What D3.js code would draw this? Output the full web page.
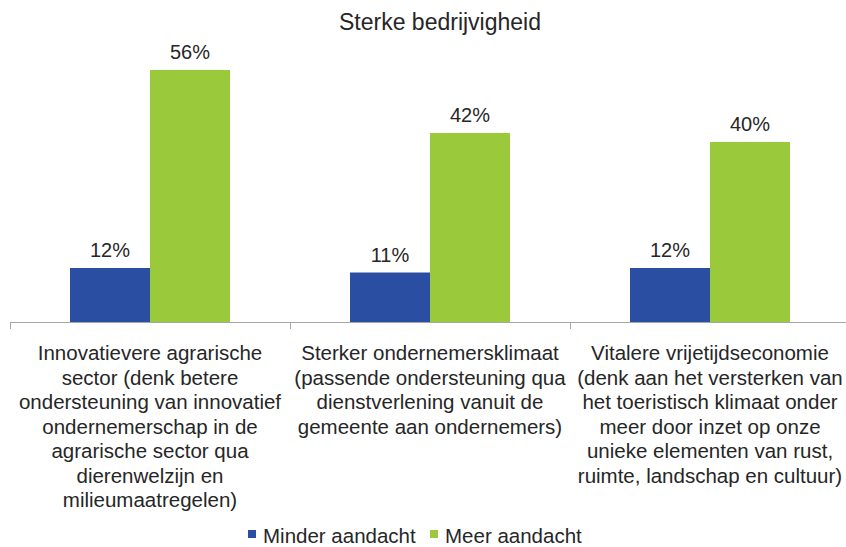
<!DOCTYPE html>
<html>
<head>
<meta charset="utf-8">
<script src="https://cdn.jsdelivr.net/npm/d3@7"></script>
<style>
  body { margin: 0; background: #fff; }
  text { font-family: "Liberation Sans", Arial, sans-serif; fill: #262626; }
</style>
</head>
<body>
<div id="chart"></div>
<script>
// data
const categories = ['agrarisch', 'klimaat', 'vrijetijd']
const categoryLines = [
    ['Innovatievere agrarische', 'sector (denk betere', 'ondersteuning van innovatief', 'ondernemerschap in de', 'agrarische sector qua', 'dierenwelzijn en', 'milieumaatregelen)'],
    ['Sterker ondernemersklimaat', '(passende ondersteuning qua', 'dienstverlening vanuit de', 'gemeente aan ondernemers)'],
    ['Vitalere vrijetijdseconomie', '(denk aan het versterken van', 'het toeristisch klimaat onder', 'meer door inzet op onze', 'unieke elementen van rust,', 'ruimte, landschap en cultuur)']
]
const seriesNames = ['Minder aandacht', 'Meer aandacht']
const minderValues = [12, 11, 12]
const meerValues = [56, 42, 40]
const seriesColors = ['#2a4ea2', '#9aca3c']

var width = 846, height = 547;
var margin = { left: 10, right: -4, top: 52, bottom: 225 };

var svg = d3.select('#chart')
    .append('svg')
    .attr('width', width)
    .attr('height', height);

// title
svg.append('text')
    .attr('x', 440)
    .attr('y', 30)
    .attr('text-anchor', 'middle')
    .style('font-size', '23px')
    .text('Sterke bedrijvigheid');

var x = d3.scaleBand()
    .domain(categories)
    .range([margin.left, width - margin.right]);

var x1 = d3.scaleBand()
    .domain(seriesNames)
    .range([0, x.bandwidth()])
    .paddingOuter(0.75)
    .paddingInner(0);

var y = d3.scaleLinear()
    .domain([0, 60])
    .range([height - margin.bottom, margin.top]);

var rows = categories.map((c, i) => ({ cat: c, values: [minderValues[i], meerValues[i]] }));

var groups = svg.selectAll('g.group')
    .data(rows)
    .enter()
    .append('g')
    .attr('class', 'group')
    .attr('transform', d => 'translate(' + x(d.cat) + ',0)');

groups.selectAll('rect')
    .data(d => d.values.map((v, j) => ({ name: seriesNames[j], value: v, color: seriesColors[j] })))
    .enter()
    .append('rect')
    .attr('x', d => x1(d.name))
    .attr('y', d => y(d.value))
    .attr('width', x1.bandwidth())
    .attr('height', d => y(0) - y(d.value))
    .attr('fill', d => d.color);

// value labels
groups.selectAll('text.val')
    .data(d => d.values.map((v, j) => ({ name: seriesNames[j], value: v })))
    .enter()
    .append('text')
    .attr('class', 'val')
    .attr('x', d => x1(d.name) + x1.bandwidth() / 2)
    .attr('y', d => y(d.value) - 11)
    .attr('text-anchor', 'middle')
    .style('font-size', '20px')
    .text(d => d.value + '%');

// x axis: line with ticks at the category boundaries
var xAxis = svg.append('g')
    .attr('transform', 'translate(0,' + y(0) + ')')
    .call(d3.axisBottom(x).tickSize(0).tickFormat(''));
xAxis.select('.domain').attr('stroke', '#a6a6a6').attr('d', 'M' + margin.left + ',0.5H' + width);

var boundaries = categories.map(c => x(c)).concat([x(categories[categories.length - 1]) + x.bandwidth()]);
xAxis.selectAll('line.bound')
    .data(boundaries)
    .enter()
    .append('line')
    .attr('class', 'bound')
    .attr('x1', d => d + 0.5)
    .attr('x2', d => d + 0.5)
    .attr('y1', 0)
    .attr('y2', 7)
    .attr('stroke', '#a6a6a6');

// category labels
svg.selectAll('text.cat')
    .data(categoryLines)
    .enter()
    .append('text')
    .attr('class', 'cat')
    .attr('text-anchor', 'middle')
    .style('font-size', '20.5px')
    .each(function (lines, i) {
        var cx = x(categories[i]) + x.bandwidth() / 2;
        d3.select(this).selectAll('tspan')
            .data(lines)
            .enter()
            .append('tspan')
            .attr('x', cx)
            .attr('y', (d, k) => 360 + k * 24.5)
            .text(d => d);
    });

// legend
var legendX = [248, 430];
var legend = svg.selectAll('g.legend')
    .data(seriesNames)
    .enter()
    .append('g')
    .attr('class', 'legend')
    .attr('transform', (d, i) => 'translate(' + legendX[i] + ',530)');
legend.append('rect')
    .attr('width', 8)
    .attr('height', 8)
    .attr('fill', (d, i) => seriesColors[i]);
legend.append('text')
    .attr('x', 15)
    .attr('y', 13)
    .style('font-size', '20.5px')
    .text(d => d);
</script>
</body>
</html>
